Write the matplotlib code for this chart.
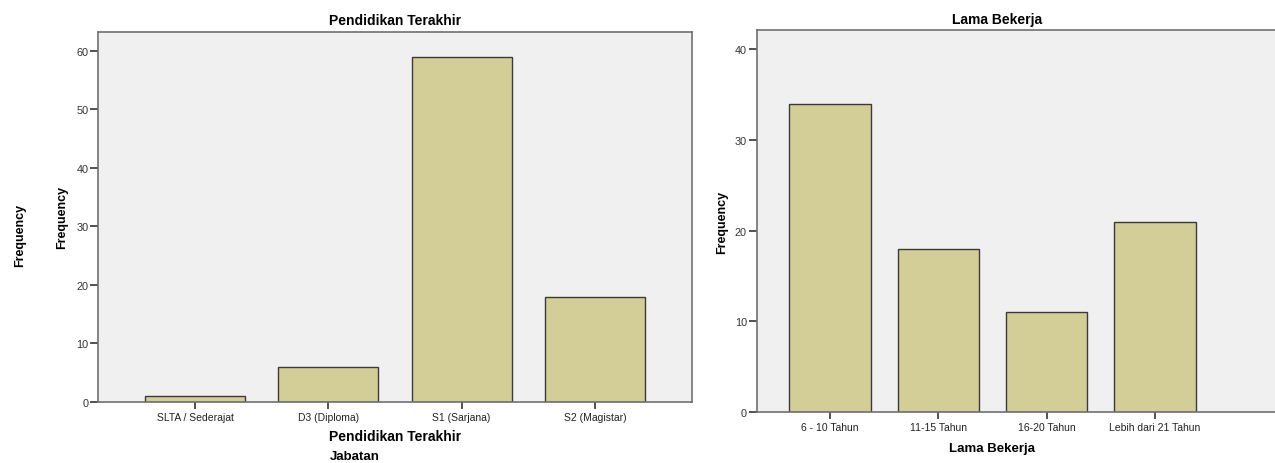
import matplotlib
matplotlib.use("Agg")
import matplotlib.pyplot as plt

plt.rcParams['font.family'] = ['Liberation Sans', 'DejaVu Sans']

edu_categories = ["SLTA / Sederajat", "D3 (Diploma)", "S1 (Sarjana)", "S2 (Magistar)"]
edu_counts = [1, 6, 59, 18]
edu_yticks = [0, 10, 20, 30, 40, 50, 60]

work_categories = ["6 - 10 Tahun", "11-15 Tahun", "16-20 Tahun", "Lebih dari 21 Tahun"]
work_counts = [34, 18, 11, 21]
work_yticks = [0, 10, 20, 30, 40]

W, H = 1275, 464
fig = plt.figure(figsize=(W / 100, H / 100), dpi=100)
fig.patch.set_facecolor("white")

bar_color = "#D3CE98"
edge_color = "#3a3a3a"
bg = "#F0F0F0"
spine_c = "#707070"
tick_c = "#333333"


def px(x0, y0, x1, y1):
    return [x0 / W, 1 - y1 / H, (x1 - x0) / W, (y1 - y0) / H]


def style(ax, yticks, ylim_top, xlim):
    ax.set_facecolor(bg)
    ax.set_ylim(0, ylim_top)
    ax.set_xlim(*xlim)
    ax.set_yticks(yticks)
    for s in ax.spines.values():
        s.set_color(spine_c)
        s.set_linewidth(1.2)
    ax.tick_params(axis="y", direction="out", length=6, width=1.2, color=tick_c,
                   labelsize=7.8, labelcolor=tick_c, pad=1)
    ax.tick_params(axis="x", direction="out", length=5, width=1.2, color=tick_c,
                   labelsize=7.5, labelcolor="#222222", pad=2)


# Left chart
ax1 = fig.add_axes(px(98, 33, 692, 403))
x1 = list(range(len(edu_categories)))
ax1.bar(x1, edu_counts, width=0.75, color=bar_color, edgecolor=edge_color, linewidth=1.0)
ax1.set_xticks(x1)
ax1.set_xticklabels(edu_categories)
style(ax1, edu_yticks, 63.2, (-0.7275, 3.7275))

fig.text(395 / W, 1 - 21 / H, "Pendidikan Terakhir", ha="center", va="center",
         fontsize=10, fontweight="bold")
fig.text(395 / W, 1 - 437 / H, "Pendidikan Terakhir", ha="center", va="center",
         fontsize=10, fontweight="bold")
fig.text(355 / W, 1 - 457 / H, "Jabatan", ha="center", va="center",
         fontsize=9.5, fontweight="bold")
fig.text(20 / W, 1 - 235 / H, "Frequency", ha="center", va="center",
         fontsize=9, fontweight="bold", rotation=90)
fig.text(62 / W, 1 - 217 / H, "Frequency", ha="center", va="center",
         fontsize=9, fontweight="bold", rotation=90)

# Right chart
ax2 = fig.add_axes(px(756.7, 31, 1275, 413.3))
x2 = list(range(len(work_categories)))
ax2.bar(x2, work_counts, width=0.75, color=bar_color, edgecolor=edge_color, linewidth=1.0)
ax2.set_xticks(x2)
ax2.set_xticklabels(work_categories)
style(ax2, work_yticks, 42.1, (-0.677, 4.109))
ax2.spines["right"].set_visible(False)

fig.text(997 / W, 1 - 20 / H, "Lama Bekerja", ha="center", va="center",
         fontsize=10, fontweight="bold")
fig.text(992 / W, 1 - 449 / H, "Lama Bekerja", ha="center", va="center",
         fontsize=9.5, fontweight="bold")
fig.text(722 / W, 1 - 222 / H, "Frequency", ha="center", va="center",
         fontsize=9, fontweight="bold", rotation=90)

fig.savefig("out.png", dpi=100, facecolor="white")
